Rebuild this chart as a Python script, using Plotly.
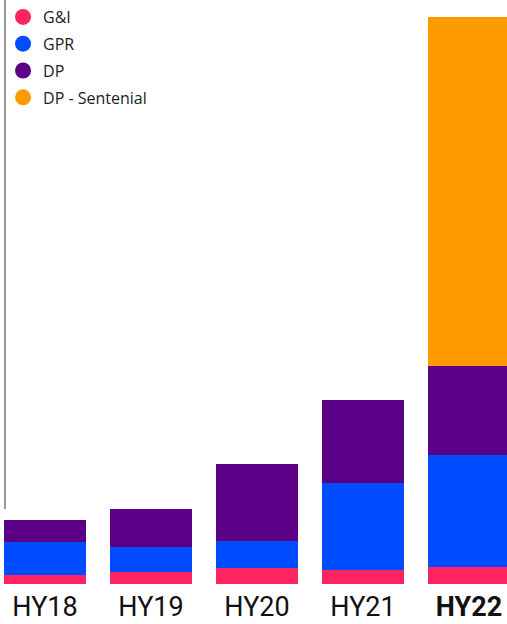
import plotly.graph_objects as go

categories = ["HY18", "HY19", "HY20", "HY21", "HY22"]
tick_labels = ["HY18", "HY19", "HY20", "HY21", "<b>HY22</b>"]
gi = [9, 12, 16, 14, 17]
gpr = [33, 25, 27, 87, 112]
dp = [22, 38, 77, 83, 89]
dp_sentenial = [0, 0, 0, 0, 349]

series = [
    ("G&I", gi, "#FF2361"),
    ("GPR", gpr, "#004DFF"),
    ("DP", dp, "#5B0086"),
    ("DP - Sentenial", dp_sentenial, "#FF9B00"),
]

fig = go.Figure()
for i, (name, vals, color) in enumerate(series):
    fig.add_trace(go.Bar(x=categories, y=vals, name=name, marker_color=color,
                         marker_line_width=0, showlegend=False, width=0.774))
for i, (name, vals, color) in enumerate(series):
    fig.add_trace(go.Scatter(x=[None], y=[None], mode="markers", name=name,
                             legendgroup=name,
                             marker=dict(color=color, size=16, symbol="circle")))

fig.add_shape(type="line", xref="paper", yref="paper", x0=0.0099, x1=0.0099,
              y0=1, y1=(584 - 509) / 584, line=dict(color="#999999", width=2))

fig.update_layout(
    barmode="stack",
    width=507, height=624,
    margin=dict(l=0, r=0, t=0, b=40),
    plot_bgcolor="white", paper_bgcolor="white",
    font=dict(family="Open Sans", color="#111111"),
    xaxis=dict(range=[-0.4245, 4.3585], tickmode="array", tickvals=categories,
               ticktext=tick_labels,
               tickfont=dict(size=27, color="#111111",
                             family="Liberation Sans Narrow, Arial Narrow, Roboto"),
               showgrid=False, zeroline=False, showline=False,
               ticks="", ticklabelstandoff=4, automargin=False),
    yaxis=dict(range=[0, 584], visible=False),
    legend=dict(x=0.006, y=1, xanchor="left", yanchor="top",
                font=dict(size=16, color="#222222"), tracegroupgap=3,
                bgcolor="rgba(0,0,0,0)"),
)

fig.write_html("out.html", config={"displayModeBar": False},
               post_script="document.body.style.margin='0';")
